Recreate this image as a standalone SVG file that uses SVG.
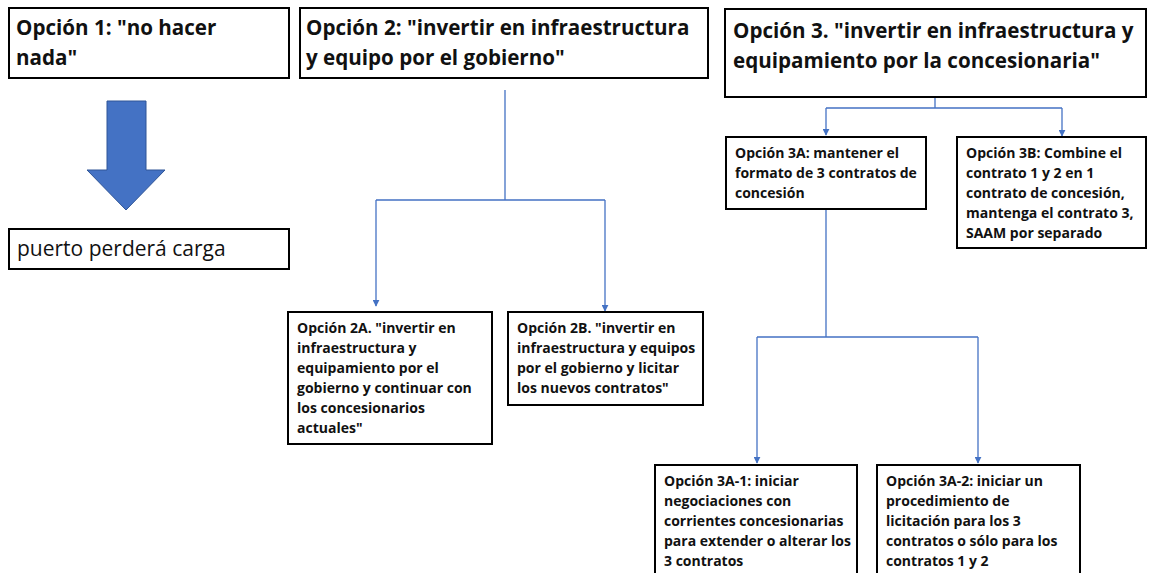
<svg xmlns="http://www.w3.org/2000/svg" width="1150" height="573" viewBox="0 0 1150 573">
<defs>
<marker id="ah" viewBox="0 0 10 10" refX="9" refY="5" markerWidth="7" markerHeight="7" markerUnits="userSpaceOnUse" orient="auto">
<path d="M0,0 L10,5 L0,10 z" fill="#4472C4"/>
</marker>
<style>
.box{fill:#fff;stroke:#000;stroke-width:2}
.big{font-family:"Open Sans","Liberation Sans",sans-serif;font-weight:bold;font-size:20.6px;fill:#111}
.reg{font-family:"Open Sans","Liberation Sans",sans-serif;font-size:21px;fill:#111}
.sm{font-family:"Open Sans","Liberation Sans",sans-serif;font-weight:bold;font-size:14px;fill:#111}
.con{fill:none;stroke:#4472C4;stroke-width:1.3}
</style>
</defs>
<rect width="1150" height="573" fill="#fff"/>
<g id="connectors">
<path class="con" d="M505,90 V200 M376,200 H605"/>
<path class="con" d="M376,200 V306" marker-end="url(#ah)"/>
<path class="con" d="M605,200 V311" marker-end="url(#ah)"/>
<path class="con" d="M935,97 V108 M826,108 H1062"/>
<path class="con" d="M826,108 V135" marker-end="url(#ah)"/>
<path class="con" d="M1062,108 V136" marker-end="url(#ah)"/>
<path class="con" d="M826,209 V337 M757,337 H978"/>
<path class="con" d="M757,337 V463" marker-end="url(#ah)"/>
<path class="con" d="M978,337 V463" marker-end="url(#ah)"/>
</g>
<g id="op1">
<rect class="box" x="9" y="8" width="280" height="70"/>
<text class="big" x="16" y="35">Opción 1: "no hacer</text>
<text class="big" x="16" y="65">nada"</text>
</g>
<g id="arrow1">
<path d="M107,101 H146 V170 H165 L126,210 L87,170 H107 Z" fill="#4472C4" stroke="#2F5597" stroke-width="1"/>
</g>
<g id="res1">
<rect class="box" x="9" y="229" width="280" height="40"/>
<text class="reg" x="17" y="256">puerto perderá carga</text>
</g>
<g id="op2">
<rect class="box" x="300" y="8" width="408" height="70"/>
<text class="big" x="306" y="35">Opción 2: "invertir en infraestructura</text>
<text class="big" x="306" y="65">y equipo por el gobierno"</text>
</g>
<g id="op3">
<rect class="box" x="725" y="9" width="421" height="88"/>
<text class="big" x="733" y="38">Opción 3. "invertir en infraestructura y</text>
<text class="big" x="733" y="68">equipamiento por la concesionaria"</text>
</g>
<g id="op2a">
<rect class="box" x="288" y="312" width="204" height="132"/>
<text class="sm" x="297" y="333">Opción 2A. "invertir en</text>
<text class="sm" x="297" y="353">infraestructura y</text>
<text class="sm" x="297" y="373">equipamiento por el</text>
<text class="sm" x="297" y="393">gobierno y continuar con</text>
<text class="sm" x="297" y="413">los concesionarios</text>
<text class="sm" x="297" y="433">actuales"</text>
</g>
<g id="op2b">
<rect class="box" x="508" y="312" width="195" height="93"/>
<text class="sm" x="517" y="333">Opción 2B. "invertir en</text>
<text class="sm" x="517" y="353">infraestructura y equipos</text>
<text class="sm" x="517" y="373">por el gobierno y licitar</text>
<text class="sm" x="517" y="393">los nuevos contratos"</text>
</g>
<g id="op3a">
<rect class="box" x="726" y="137" width="200" height="72"/>
<text class="sm" x="735" y="158">Opción 3A: mantener el</text>
<text class="sm" x="735" y="178">formato de 3 contratos de</text>
<text class="sm" x="735" y="198">concesión</text>
</g>
<g id="op3b">
<rect class="box" x="957" y="137" width="189" height="111"/>
<text class="sm" x="966" y="158">Opción 3B: Combine el</text>
<text class="sm" x="966" y="178">contrato 1 y 2 en 1</text>
<text class="sm" x="966" y="198">contrato de concesión,</text>
<text class="sm" x="966" y="218">mantenga el contrato 3,</text>
<text class="sm" x="966" y="238">SAAM por separado</text>
</g>
<g id="op3a1">
<rect class="box" x="655" y="465" width="202" height="120"/>
<text class="sm" x="664" y="486">Opción 3A-1: iniciar</text>
<text class="sm" x="664" y="506">negociaciones con</text>
<text class="sm" x="664" y="526">corrientes concesionarias</text>
<text class="sm" x="664" y="546">para extender o alterar los</text>
<text class="sm" x="664" y="566">3 contratos</text>
</g>
<g id="op3a2">
<rect class="box" x="877" y="465" width="203" height="120"/>
<text class="sm" x="886" y="486">Opción 3A-2: iniciar un</text>
<text class="sm" x="886" y="506">procedimiento de</text>
<text class="sm" x="886" y="526">licitación para los 3</text>
<text class="sm" x="886" y="546">contratos o sólo para los</text>
<text class="sm" x="886" y="566">contratos 1 y 2</text>
</g>
</svg>
